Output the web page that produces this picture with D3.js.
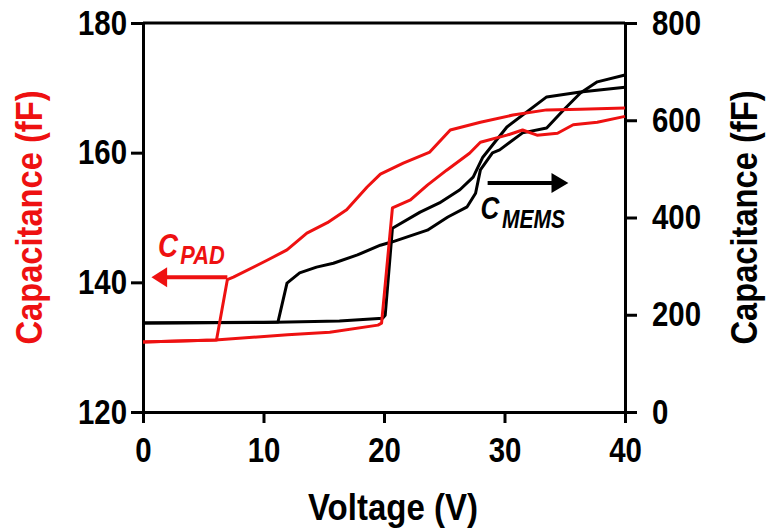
<!DOCTYPE html>
<html>
<head>
<meta charset="utf-8">
<script src="https://cdn.jsdelivr.net/npm/d3@7"></script>
<style>
  html, body { margin: 0; padding: 0; background: #fff; }
  svg { display: block; }
  text { font-family: "Liberation Sans", Arial, sans-serif; font-weight: bold; }
</style>
</head>
<body>
<svg id="chart" width="768" height="529"></svg>
<script>
// ---- Data ----
const xTicks = [0, 10, 20, 30, 40];
const leftTicks = [120, 140, 160, 180];
const rightTicks = [0, 200, 400, 600, 800];

// C_PAD (left axis, fF) - forward sweep (jump near 20 V)
const padFwdV = [0, 6, 12, 15.5, 19.5, 19.8, 20.7, 22.2, 23.6, 25.2, 27.1, 28, 30.2, 31.5, 32.7, 34.4, 35.7, 37.7, 40];
const padFwdC = [130.8, 131.1, 131.9, 132.3, 133.4, 133.7, 151.5, 152.7, 155.0, 157.3, 159.9, 161.6, 162.7, 163.5, 162.7, 163.0, 164.3, 164.7, 165.6];
// C_PAD - backward sweep (drop near 6-7 V)
const padBwdV = [40, 36.3, 33.5, 30.7, 28, 25.5, 23.8, 21.6, 19.7, 18.6, 16.9, 15.3, 13.6, 11.95, 10.3, 7.5, 7.0, 6.1, 0];
const padBwdC = [166.9, 166.7, 166.6, 165.8, 164.7, 163.5, 160.1, 158.4, 156.7, 154.7, 151.2, 149.2, 147.6, 145.0, 143.4, 140.8, 140.4, 131.1, 130.8];

// C_MEMS (right axis, fF) - forward sweep (jump near 20.5 V)
const memsFwdV = [0, 10, 16.3, 19.9, 20.1, 20.7, 23, 24.6, 26.3, 27.4, 28.2, 30.2, 33.5, 36.3, 40];
const memsFwdC = [183, 184, 187, 193, 199, 378, 411, 430, 457, 483, 524, 586, 648, 658, 668];
// C_MEMS - backward sweep (drop near 11.5 V)
const memsBwdV = [40, 37.7, 36.3, 34.9, 33.5, 31.5, 29.6, 29, 28, 27.6, 26.9, 25.3, 23.6, 20.7, 19.7, 17.8, 15.8, 14.4, 13.0, 11.95, 11.2, 0];
const memsBwdC = [693, 679, 656, 621, 584, 574, 539, 533, 498, 450, 422, 401, 374, 350, 343, 323, 306, 298, 286, 265, 185, 183];

// ---- Layout ----
const svg = d3.select("#chart");
const L = 143, R = 625, T = 23, B = 412;
const x = d3.scaleLinear().domain([0, 40]).range([L, R]);
const yL = d3.scaleLinear().domain([120, 180]).range([B, T]);
const yR = d3.scaleLinear().domain([0, 800]).range([B, T]);

const RED = "#ee1111";
const TICK_FS = 35;
const TITLE_FS = 37;

// condense text horizontally (the reference uses a narrow bold sans)
function narrow(sel, f) {
  sel.each(function () {
    const w = this.getComputedTextLength();
    d3.select(this).attr("textLength", w * f).attr("lengthAdjust", "spacingAndGlyphs");
  });
}

// top frame line
svg.append("line").attr("x1", L).attr("x2", R).attr("y1", T).attr("y2", T)
  .attr("stroke", "#000").attr("stroke-width", 3);

function styleAxis(g) {
  g.selectAll("path.domain").attr("stroke", "#000").attr("stroke-width", 3);
  g.selectAll(".tick line").attr("stroke", "#000").attr("stroke-width", 3);
  g.selectAll(".tick text").attr("font-size", TICK_FS).attr("fill", "#000")
    .style("font-family", "'Liberation Sans', Arial, sans-serif").style("font-weight", "bold");
  narrow(g.selectAll(".tick text"), 0.84);
}

const gx = svg.append("g").attr("transform", `translate(0,${B})`)
  .call(d3.axisBottom(x).tickValues(xTicks).tickSize(11).tickSizeOuter(0).tickPadding(14));
styleAxis(gx);

const gl = svg.append("g").attr("transform", `translate(${L},0)`)
  .call(d3.axisLeft(yL).tickValues(leftTicks).tickSize(12).tickSizeOuter(0).tickPadding(4));
styleAxis(gl);

const gr = svg.append("g").attr("transform", `translate(${R},0)`)
  .call(d3.axisRight(yR).tickValues(rightTicks).tickSize(12).tickSizeOuter(0).tickPadding(15));
styleAxis(gr);

// ---- Lines ----
function drawLine(vs, cs, yScale, color) {
  const pts = vs.map((v, i) => [v, cs[i]]);
  svg.append("path").datum(pts)
    .attr("fill", "none").attr("stroke", color).attr("stroke-width", 3)
    .attr("stroke-linejoin", "round")
    .attr("d", d3.line().x(d => x(d[0])).y(d => yScale(d[1])));
}
drawLine(memsFwdV, memsFwdC, yR, "#000");
drawLine(memsBwdV, memsBwdC, yR, "#000");
drawLine(padFwdV, padFwdC, yL, RED);
drawLine(padBwdV, padBwdC, yL, RED);

// ---- Axis titles ----
svg.append("text").attr("x", 393).attr("y", 520).attr("text-anchor", "middle")
  .attr("font-size", TITLE_FS).attr("fill", "#000")
  .attr("textLength", 170).attr("lengthAdjust", "spacingAndGlyphs").text("Voltage (V)");
svg.append("text").attr("transform", `translate(42,${(T + B) / 2}) rotate(-90)`)
  .attr("text-anchor", "middle").attr("font-size", TITLE_FS).attr("fill", RED)
  .attr("textLength", 254).attr("lengthAdjust", "spacingAndGlyphs").text("Capacitance (fF)");
svg.append("text").attr("transform", `translate(757,${(T + B) / 2}) rotate(-90)`)
  .attr("text-anchor", "middle").attr("font-size", TITLE_FS).attr("fill", "#000")
  .attr("textLength", 254).attr("lengthAdjust", "spacingAndGlyphs").text("Capacitance (fF)");

// ---- Annotations ----
// C_PAD with left arrow
const padArrowY = yL(140.8);
svg.append("line").attr("x1", x(7)).attr("x2", x(1.6)).attr("y1", padArrowY).attr("y2", padArrowY)
  .attr("stroke", RED).attr("stroke-width", 4);
svg.append("path")
  .attr("d", `M${x(0.7)},${padArrowY} L${x(2.0)},${padArrowY - 10} L${x(2.0)},${padArrowY + 10} Z`)
  .attr("fill", RED);
const padC = svg.append("text").attr("x", x(1.25)).attr("y", 257)
  .attr("font-size", 33).attr("fill", RED).attr("font-style", "italic").text("C");
narrow(padC, 0.84);
const padSub = svg.append("text").attr("x", x(3.1)).attr("y", 264)
  .attr("font-size", 26).attr("fill", RED).attr("font-style", "italic").text("PAD");
narrow(padSub, 0.84);

// C_MEMS with right arrow
const memsArrowY = yR(471);
svg.append("line").attr("x1", x(28.6)).attr("x2", x(34.5)).attr("y1", memsArrowY).attr("y2", memsArrowY)
  .attr("stroke", "#000").attr("stroke-width", 4);
svg.append("path")
  .attr("d", `M${x(35.3)},${memsArrowY} L${x(33.9)},${memsArrowY - 10} L${x(33.9)},${memsArrowY + 10} Z`)
  .attr("fill", "#000");
const memsC = svg.append("text").attr("x", x(28.0)).attr("y", 219)
  .attr("font-size", 31).attr("fill", "#000").attr("font-style", "italic").text("C");
narrow(memsC, 0.84);
const memsSub = svg.append("text").attr("x", x(29.8)).attr("y", 228)
  .attr("font-size", 25).attr("fill", "#000").attr("font-style", "italic").text("MEMS");
narrow(memsSub, 0.84);
</script>
</body>
</html>
